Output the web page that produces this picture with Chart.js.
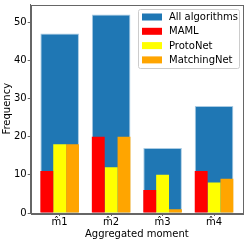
<!DOCTYPE html>
<html>
<head>
<meta charset="utf-8">
<script src="https://cdn.jsdelivr.net/npm/chart.js@4/dist/chart.umd.min.js"></script>
<style>
  body { margin: 0; background: #fff; }
  canvas { display: block; }
</style>
</head>
<body>
<canvas id="grafico" width="249" height="241"></canvas>
<script>
const momentos = ['m\u03021', 'm\u03022', 'm\u03023', 'm\u03024'];
const todos = [47, 52, 17, 28];
const maml = [11, 20, 6, 11];
const protoNet = [18, 12, 10, 8];
const matchingNet = [18, 20, 1, 9];
const yTicks = [0, 10, 20, 30, 40, 50];

const eixoCor = '#666';
const fonte = { family: 'DejaVu Sans', size: 10 };

function pontos(valores) {
    return valores.map((v, i) => ({ x: i, y: v }));
}

// Moldura e legenda dentro da área do gráfico
const molduraLegenda = {
    id: 'molduraLegenda',
    afterDraw(chart) {
        const ctx = chart.ctx;
        const a = chart.chartArea;
        ctx.save();
        ctx.strokeStyle = eixoCor;
        ctx.lineWidth = 1;
        ctx.strokeRect(Math.round(a.left) + 0.5, Math.round(a.top) + 0.5,
            Math.round(a.right - a.left), Math.round(a.bottom - a.top));

        const caixa = { x: 138, y: 9, w: 101, h: 59 };
        ctx.fillStyle = 'rgba(255,255,255,0.8)';
        ctx.strokeStyle = '#ccc';
        ctx.beginPath();
        ctx.roundRect(caixa.x + 0.5, caixa.y + 0.5, caixa.w, caixa.h, 2);
        ctx.fill();
        ctx.stroke();

        ctx.font = '10px "DejaVu Sans"';
        ctx.textBaseline = 'middle';
        chart.data.datasets.forEach((ds, i) => {
            const cy = caixa.y + 8 + i * 14.3;
            ctx.fillStyle = ds.backgroundColor;
            ctx.fillRect(caixa.x + 4, cy - 3.5, 20, 7);
            ctx.fillStyle = '#000';
            ctx.fillText(ds.label, caixa.x + 31, cy + 0.5);
        });
        ctx.restore();
    }
};

const ctx = document.getElementById('grafico').getContext('2d');
const grafico = new Chart(ctx, {
    type: 'bar',
    data: {
        datasets: [
            {
                label: 'All algorithms',
                data: pontos(todos),
                backgroundColor: '#1f77b4',
                borderColor: '#a9cbe3',
                borderWidth: 1,
                grouped: false,
                categoryPercentage: 1,
                barPercentage: 0.75,
                order: 1,
            },
            {
                label: 'MAML',
                data: pontos(maml),
                backgroundColor: '#ff0000',
                categoryPercentage: 0.75,
                barPercentage: 1,
                order: 0,
            },
            {
                label: 'ProtoNet',
                data: pontos(protoNet),
                backgroundColor: '#ffff00',
                categoryPercentage: 0.75,
                barPercentage: 1,
                order: 0,
            },
            {
                label: 'MatchingNet',
                data: pontos(matchingNet),
                backgroundColor: '#ffa500',
                categoryPercentage: 0.75,
                barPercentage: 1,
                order: 0,
            },
        ],
    },
    options: {
        responsive: false,
        animation: false,
        layout: { padding: { top: 0, right: 6, left: 1, bottom: 1 } },
        plugins: {
            legend: { display: false },
            tooltip: { enabled: false },
        },
        scales: {
            x: {
                type: 'linear',
                offset: false,
                min: -0.5625,
                max: 3.5625,
                afterBuildTicks: (eixo) => { eixo.ticks = momentos.map((_, i) => ({ value: i })); },
                ticks: {
                    color: '#000',
                    font: { family: 'DejaVu Sans', size: 10, lineHeight: 1 },
                    padding: 1,
                    maxRotation: 0,
                    autoSkip: false,
                    callback: (v) => momentos[v],
                },
                grid: { offset: false, drawOnChartArea: false, drawTicks: true, tickLength: 3, color: eixoCor },
                border: { display: true, color: eixoCor },
                title: { display: true, text: 'Aggregated moment', color: '#000', font: fonte, padding: 0 },
            },
            y: {
                min: 0,
                max: 54.6,
                afterBuildTicks: (eixo) => { eixo.ticks = yTicks.map(v => ({ value: v })); },
                ticks: { color: '#000', font: { family: 'DejaVu Sans', size: 10, lineHeight: 0.7 }, padding: 1 },
                grid: { drawOnChartArea: false, drawTicks: true, tickLength: 3, color: eixoCor },
                border: { display: true, color: eixoCor },
                title: { display: true, text: 'Frequency', color: '#000', font: fonte, padding: 0 },
            },
        },
    },
    plugins: [molduraLegenda],
});
</script>
</body>
</html>
